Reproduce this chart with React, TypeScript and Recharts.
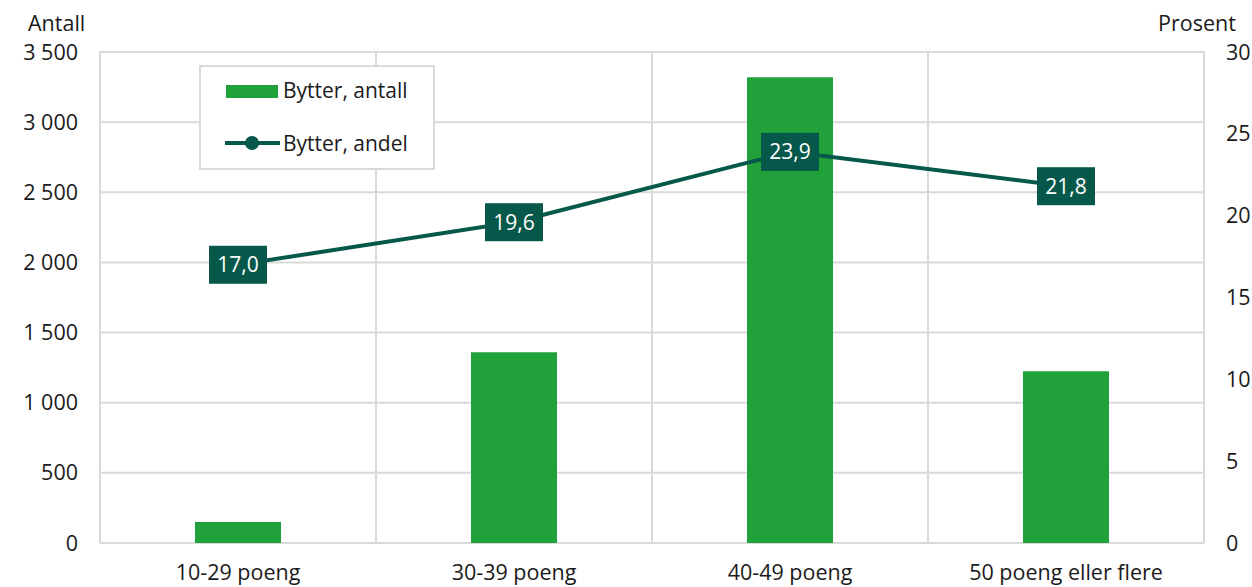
import React from "react";
import {
  ComposedChart,
  Bar,
  Line,
  XAxis,
  YAxis,
  CartesianGrid,
  LabelList,
} from "recharts";

const categories = ["10-29 poeng", "30-39 poeng", "40-49 poeng", "50 poeng eller flere"];
const antall = [150, 1360, 3320, 1225];
const andel = [17.0, 19.6, 23.9, 21.8];
const leftTicks = [0, 500, 1000, 1500, 2000, 2500, 3000, 3500];
const rightTicks = [0, 5, 10, 15, 20, 25, 30];

const BAR_COLOR = "#21a13a";
const LINE_COLOR = "#06584a";
const GRID = "#d9d9d9";
const TEXT = "#1a1a1a";
const FONT = "'Open Sans', sans-serif";
const FS = 21.5;

const data = categories.map((c, i) => ({ name: c, antall: antall[i], andel: andel[i] }));

const fmtThousands = (v: number) => v.toLocaleString("en-US").replace(/,/g, " ");
const fmtComma = (v: number) => v.toFixed(1).replace(".", ",");

// boks med verdi oppå linjepunktet
function ValueBox(props: any) {
  const { x, y, value } = props;
  const w = 58;
  const h = 38;
  return (
    <g>
      <rect x={x - w / 2} y={y - h / 2} width={w} height={h} fill={LINE_COLOR} />
      <text
        x={x}
        y={y}
        dy="0.35em"
        textAnchor="middle"
        fill="#fff"
        fontSize={21}
        fontFamily={FONT}
      >
        {fmtComma(value)}
      </text>
    </g>
  );
}

function LegendBox() {
  return (
    <div
      style={{
        position: "absolute",
        left: 199,
        top: 65,
        width: 232,
        height: 101,
        border: `2px solid ${GRID}`,
        background: "#fff",
        fontFamily: FONT,
        fontSize: 21,
        color: TEXT,
      }}
    >
      <div style={{ position: "absolute", left: 25, top: 18, width: 52, height: 13, background: BAR_COLOR }} />
      <div style={{ position: "absolute", left: 82, top: 11, lineHeight: "24px" }}>Bytter, antall</div>
      <svg style={{ position: "absolute", left: 23, top: 66 }} width={57} height={20}>
        <line x1={1} y1={10} x2={56} y2={10} stroke={LINE_COLOR} strokeWidth={4} />
        <circle cx={28} cy={10} r={7} fill={LINE_COLOR} />
      </svg>
      <div style={{ position: "absolute", left: 82, top: 64, lineHeight: "24px" }}>Bytter, andel</div>
    </div>
  );
}

export default function App() {
  return (
    <div style={{ position: "fixed", left: 0, top: 0, width: 1252, height: 587, background: "#fff" }}>
      <ComposedChart
        width={1252}
        height={587}
        data={data}
        margin={{ top: 52, right: 0, bottom: 0, left: 0 }}
        barCategoryGap={0}
      >
        <CartesianGrid
          stroke={GRID}
          strokeWidth={2}
          yAxisId="left"
          verticalCoordinatesGenerator={({ offset }: any) =>
            [0, 1, 2, 3, 4].map((i) => offset.left + (i * offset.width) / 4)
          }
        />
        <XAxis
          dataKey="name"
          axisLine={false}
          tickLine={false}
          tickSize={0}
          tickMargin={22}
          height={44}
          interval={0}
          tick={{ fill: TEXT, fontSize: FS, fontFamily: FONT }}
        />
        <YAxis
          yAxisId="left"
          domain={[0, 3500]}
          ticks={leftTicks}
          width={100}
          axisLine={false}
          tickLine={false}
          tickSize={0}
          tickMargin={22}
          tickFormatter={fmtThousands}
          tick={{ fill: TEXT, fontSize: FS, fontFamily: FONT }}
        />
        <YAxis
          yAxisId="right"
          orientation="right"
          domain={[0, 30]}
          ticks={rightTicks}
          width={48}
          axisLine={false}
          tickLine={false}
          tickSize={0}
          tickMargin={22}
          tick={{ fill: TEXT, fontSize: FS, fontFamily: FONT, textAnchor: "start" }}
        />
        <Bar
          yAxisId="left"
          dataKey="antall"
          fill={BAR_COLOR}
          barSize={86}
          isAnimationActive={false}
        />
        <Line
          yAxisId="right"
          dataKey="andel"
          stroke={LINE_COLOR}
          strokeWidth={4}
          dot={false}
          activeDot={false}
          isAnimationActive={false}
        >
          <LabelList dataKey="andel" content={<ValueBox />} />
        </Line>
      </ComposedChart>
      <div style={{ position: "absolute", left: 28, top: 8, fontFamily: FONT, fontSize: FS, color: TEXT }}>
        Antall
      </div>
      <div style={{ position: "absolute", left: 1158, top: 8, fontFamily: FONT, fontSize: FS, color: TEXT }}>
        Prosent
      </div>
      <LegendBox />
    </div>
  );
}
